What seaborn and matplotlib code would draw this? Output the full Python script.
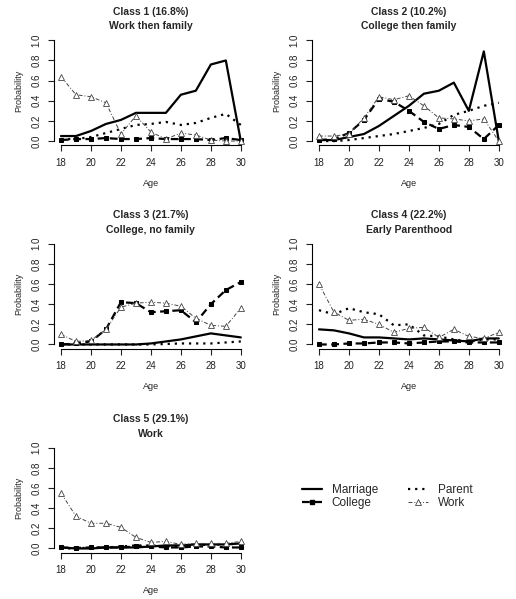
import numpy as np
import pandas as pd
import matplotlib

matplotlib.use("Agg")

import matplotlib.pyplot as plt
from matplotlib.lines import Line2D
import seaborn as sns

# =====================================
# Data
# =====================================

ages = list(range(18, 31))

titles = [
    "Class 1 (16.8%)\nWork then family",
    "Class 2 (10.2%)\nCollege then family",
    "Class 3 (21.7%)\nCollege, no family",
    "Class 4 (22.2%)\nEarly Parenthood",
    "Class 5 (29.1%)\nWork",
]

marriage = [
    [0.05, 0.05, 0.10, 0.17, 0.21, 0.28, 0.28, 0.28, 0.46, 0.50, 0.76, 0.80, 0.00],
    [0.01, 0.01, 0.04, 0.07, 0.15, 0.25, 0.35, 0.47, 0.50, 0.58, 0.30, 0.89, 0.00],
    [0.00, 0.00, 0.00, 0.00, 0.00, 0.00, 0.01, 0.03, 0.05, 0.08, 0.11, 0.09, 0.07],
    [0.15, 0.14, 0.11, 0.07, 0.07, 0.06, 0.05, 0.06, 0.05, 0.04, 0.03, 0.06, 0.06],
    [0.01, 0.00, 0.00, 0.01, 0.01, 0.01, 0.02, 0.03, 0.03, 0.04, 0.04, 0.04, 0.05],
]

college = [
    [0.01, 0.02, 0.02, 0.03, 0.02, 0.02, 0.03, 0.02, 0.02, 0.02, 0.01, 0.03, 0.01],
    [0.01, 0.02, 0.08, 0.21, 0.42, 0.39, 0.30, 0.19, 0.12, 0.16, 0.14, 0.02, 0.16],
    [0.00, 0.01, 0.03, 0.15, 0.42, 0.41, 0.32, 0.33, 0.34, 0.22, 0.40, 0.54, 0.62],
    [0.00, 0.00, 0.01, 0.01, 0.02, 0.02, 0.01, 0.02, 0.03, 0.03, 0.02, 0.02, 0.02],
    [0.01, 0.005, 0.01, 0.01, 0.01, 0.02, 0.02, 0.01, 0.01, 0.02, 0.02, 0.01, 0.01],
]

parent = [
    [0.02, 0.02, 0.04, 0.08, 0.12, 0.16, 0.17, 0.19, 0.16, 0.18, 0.23, 0.27, 0.16],
    [0.00, 0.00, 0.01, 0.03, 0.05, 0.07, 0.10, 0.13, 0.17, 0.26, 0.30, 0.35, 0.38],
    [0.00, 0.00, 0.00, 0.00, 0.00, 0.00, 0.00, 0.005, 0.01, 0.01, 0.01, 0.02, 0.03],
    [0.34, 0.30, 0.36, 0.32, 0.30, 0.19, 0.20, 0.09, 0.08, 0.05, 0.03, 0.05, 0.05],
    [0.00, 0.00, 0.01, 0.01, 0.02, 0.03, 0.03, 0.02, 0.03, 0.03, 0.04, 0.04, 0.05],
]

work = [
    [0.64, 0.46, 0.44, 0.38, 0.07, 0.25, 0.09, 0.02, 0.08, 0.06, 0.01, 0.00, 0.00],
    [0.05, 0.05, 0.07, 0.23, 0.44, 0.41, 0.45, 0.35, 0.23, 0.22, 0.20, 0.22, 0.00],
    [0.10, 0.03, 0.04, 0.15, 0.37, 0.41, 0.42, 0.41, 0.38, 0.26, 0.19, 0.18, 0.36],
    [0.60, 0.32, 0.24, 0.25, 0.20, 0.12, 0.16, 0.17, 0.07, 0.15, 0.08, 0.06, 0.12],
    [0.55, 0.32, 0.25, 0.25, 0.21, 0.11, 0.06, 0.07, 0.04, 0.05, 0.05, 0.05, 0.07],
]

series_names = ["Marriage", "College", "Parent", "Work"]

# =====================================
# Styling
# =====================================

sns.set_style("white")
plt.rcParams["font.family"] = ["Liberation Sans", "DejaVu Sans"]

styles = {
    "Marriage": dict(linestyle="-", linewidth=1.6, marker=None),
    "College": dict(linestyle=(0, (3.5, 2)), linewidth=1.6, marker="s",
                    markersize=3.2, markerfacecolor="black",
                    markeredgecolor="black"),
    "Parent": dict(linestyle=(0, (1, 2.2)), linewidth=1.6, marker=None),
    "Work": dict(linestyle=(0, (4, 2, 1, 2)), linewidth=0.7, marker="^",
                 markersize=4, markerfacecolor="white",
                 markeredgecolor="#444444", markeredgewidth=0.6),
}
line_colors = {"Marriage": "black", "College": "black",
               "Parent": "black", "Work": "#444444"}

fig = plt.figure(figsize=(5.16, 5.99), dpi=100)

W, H = 516.0, 599.0
col_left = [53.8, 311.8]
row_top = [36.3, 239.7, 443.7]
ax_w = 194.2
ax_h = 108.8

positions = [(0, 0), (0, 1), (1, 0), (1, 1), (2, 0)]

for i, (r, c) in enumerate(positions):
    left = col_left[c] / W
    bottom = (H - row_top[r] - ax_h) / H
    ax = fig.add_axes([left, bottom, ax_w / W, ax_h / H])

    data = {"Marriage": marriage[i], "College": college[i],
            "Parent": parent[i], "Work": work[i]}
    for name in series_names:
        df = pd.DataFrame({"Age": ages, "Probability": data[name]})
        sns.lineplot(data=df, x="Age", y="Probability", ax=ax,
                     color=line_colors[name], errorbar=None, **styles[name])

    ax.set_xlim(17.52, 30.48)
    ax.set_ylim(-0.04, 1.04)
    ax.set_xticks(range(18, 31, 2))
    ax.set_yticks(np.arange(0, 1.01, 0.2))
    ax.set_yticklabels([f"{v:.1f}" for v in np.arange(0, 1.01, 0.2)],
                       rotation=90, va="center")
    for side in ["top", "right"]:
        ax.spines[side].set_visible(False)
    ax.spines["bottom"].set_bounds(18, 30)
    ax.spines["left"].set_bounds(0, 1)
    for side in ["bottom", "left"]:
        ax.spines[side].set_linewidth(0.8)
        ax.spines[side].set_color("black")
    ax.tick_params(axis="both", direction="out", length=4, width=0.8,
                   labelsize=7, colors="#222222", bottom=True, left=True,
                   pad=5)
    ax.set_xlabel("Age", fontsize=6.5, labelpad=8)
    ax.set_ylabel("Probability", fontsize=6.5, labelpad=6)
    ax.set_title(titles[i], fontsize=7.5, fontweight="bold", pad=5,
                 linespacing=1.55)

# =====================================
# Legend panel
# =====================================

handles = [Line2D([0], [0], color=line_colors[n], **styles[n])
           for n in ["Marriage", "College", "Parent", "Work"]]
fig.legend(handles, ["Marriage", "College", "Parent", "Work"],
           ncol=2, frameon=False, loc="center", fontsize=8.5,
           handlelength=1.7, columnspacing=2.5, handletextpad=0.85,
           labelspacing=0.1, bbox_to_anchor=(0.75, 0.171))

plt.savefig("out.png", dpi=100)
plt.close()
